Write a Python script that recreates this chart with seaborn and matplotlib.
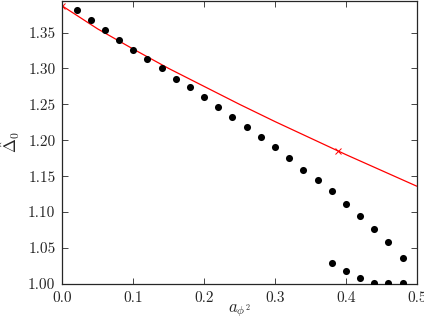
import numpy as np
import pandas as pd
import matplotlib
matplotlib.use("Agg")
import matplotlib.pyplot as plt
import seaborn as sns

# data
x_upper = [0.02, 0.04, 0.06, 0.08, 0.10, 0.12, 0.14, 0.16, 0.18, 0.20, 0.22, 0.24,
           0.26, 0.28, 0.30, 0.32, 0.34, 0.36, 0.38, 0.40, 0.42, 0.44, 0.46, 0.48]
y_upper = [1.381, 1.367, 1.353, 1.339, 1.326, 1.313, 1.300, 1.286, 1.274, 1.260, 1.247, 1.233,
           1.218, 1.205, 1.190, 1.175, 1.159, 1.144, 1.129, 1.111, 1.094, 1.077, 1.058, 1.036]
x_lower = [0.38, 0.40, 0.42, 0.44, 0.46, 0.48]
y_lower = [1.029, 1.018, 1.008, 1.001, 1.001, 1.001]

x_curve = [0.0, 0.05, 0.10, 0.15, 0.20, 0.25, 0.30, 0.35, 0.40, 0.45, 0.50]
y_curve = [1.387, 1.355, 1.327, 1.300, 1.275, 1.250, 1.226, 1.203, 1.180, 1.158, 1.136]
x_cross = [0.0, 0.389]
y_cross = [1.387, 1.185]

sns.set_style("ticks")
plt.rcParams['font.family'] = 'serif'
plt.rcParams['font.serif'] = ['cmr10']
plt.rcParams['mathtext.fontset'] = 'cm'
plt.rcParams['axes.formatter.use_mathtext'] = True
plt.rcParams['font.size'] = 11

df_pts = pd.DataFrame({'a': x_upper + x_lower, 'd': y_upper + y_lower})
df_curve = pd.DataFrame({'a': x_curve, 'd': y_curve})

fig = plt.figure(figsize=(4.24, 3.2), dpi=100)
ax = fig.add_axes([0.147, 0.113, 0.836, 0.884])

sns.lineplot(data=df_curve, x='a', y='d', color='red', lw=0.9, ax=ax)
ax.plot(x_cross, y_cross, 'x', color='red', ms=4, mew=0.7)
sns.scatterplot(data=df_pts, x='a', y='d', color='black', s=26, edgecolor='black',
                linewidth=0, ax=ax, zorder=3, clip_on=True)

ax.set_xlim(0, 0.5)
ax.set_ylim(1.0, 1.394)
ax.set_xticks([0.0, 0.1, 0.2, 0.3, 0.4, 0.5])
ax.set_yticks([1.00, 1.05, 1.10, 1.15, 1.20, 1.25, 1.30, 1.35])
ax.set_xticklabels(['0.0', '0.1', '0.2', '0.3', '0.4', '0.5'])
ax.set_yticklabels(['1.00', '1.05', '1.10', '1.15', '1.20', '1.25', '1.30', '1.35'])
ax.tick_params(direction='in', top=True, right=True, bottom=True, left=True,
               length=4, width=0.6, labelsize=11, pad=5)
for s in ax.spines.values():
    s.set_linewidth(0.9)

ax.set_xlabel(r'$a_{\phi^2}$', fontsize=12)
ax.xaxis.set_label_coords(0.5, -0.065)
ax.set_ylabel(r'$\hat{\Delta}_0$', fontsize=12)
ax.yaxis.set_label_coords(-0.113, 0.5)

fig.savefig('out.png', dpi=100)
